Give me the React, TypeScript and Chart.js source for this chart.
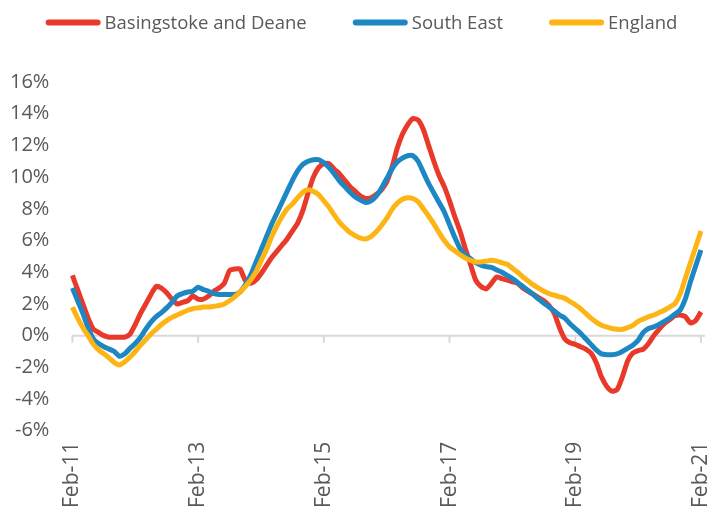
import React, { useEffect, useRef } from 'react';
import { Chart, registerables } from 'chart.js';

Chart.register(...registerables);

const MONTH_NAMES = ['Jan', 'Feb', 'Mar', 'Apr', 'May', 'Jun', 'Jul', 'Aug', 'Sep', 'Oct', 'Nov', 'Dec'];
const FIRST_YEAR = 11;
const FIRST_MONTH = 1; // Feb
const MONTH_COUNT = 121;
const CATEGORIES: string[] = Array.from({ length: MONTH_COUNT }, (_, i) => {
  const m = FIRST_MONTH + i;
  return `${MONTH_NAMES[m % 12]}-${FIRST_YEAR + Math.floor(m / 12)}`;
});
const TICK_LABELS = ['Feb-11', 'Feb-13', 'Feb-15', 'Feb-17', 'Feb-19', 'Feb-21'];

const SERIES_NAMES = ['Basingstoke and Deane', 'South East', 'England'];
const SERIES_COLORS = ['#E8392A', '#1C87C2', '#FDB515'];

const BASINGSTOKE = [
  3.8, 2.9, 2.0, 1.1, 0.4, 0.2, 0.0, -0.1, -0.1, -0.1, -0.1, 0.1,
  0.7, 1.4, 2.0, 2.6, 3.1, 3.0, 2.7, 2.3, 2.0, 2.1, 2.2, 2.5,
  2.3, 2.3, 2.5, 2.8, 3.0, 3.3, 4.1, 4.2, 4.2, 3.5, 3.3, 3.5,
  3.9, 4.4, 4.9, 5.3, 5.7, 6.1, 6.6, 7.1, 7.9, 9.0, 10.0, 10.6,
  10.85, 10.85, 10.5, 10.2, 9.8, 9.4, 9.1, 8.8, 8.65, 8.7, 8.9, 9.2,
  9.7, 10.6, 11.8, 12.7, 13.3, 13.7, 13.6, 13.0, 12.0, 11.0, 10.1, 9.4,
  8.5, 7.5, 6.6, 5.5, 4.5, 3.5, 3.1, 2.95, 3.3, 3.7, 3.6, 3.5,
  3.4, 3.3, 3.0, 2.8, 2.6, 2.4, 2.2, 1.9, 1.4, 0.5, -0.2, -0.45,
  -0.55, -0.7, -0.85, -1.1, -1.7, -2.6, -3.2, -3.5, -3.4, -2.6, -1.6, -1.1,
  -0.95, -0.85, -0.5, 0.0, 0.4, 0.75, 1.0, 1.25, 1.3, 1.2, 0.8, 0.95,
  1.5,
];

const SOUTH_EAST = [
  3.0, 2.2, 1.4, 0.5, -0.2, -0.5, -0.7, -0.85, -1.0, -1.3, -1.15, -0.8,
  -0.5, -0.1, 0.4, 0.85, 1.2, 1.45, 1.75, 2.1, 2.5, 2.65, 2.75, 2.8,
  3.05, 2.9, 2.8, 2.65, 2.6, 2.6, 2.6, 2.6, 2.75, 3.2, 3.8, 4.6,
  5.4, 6.2, 7.0, 7.7, 8.4, 9.1, 9.8, 10.4, 10.8, 11.0, 11.1, 11.1,
  10.9, 10.6, 10.2, 9.75, 9.4, 9.05, 8.75, 8.55, 8.4, 8.5, 8.8, 9.3,
  9.9, 10.5, 10.95, 11.2, 11.35, 11.35, 11.0, 10.3, 9.6, 9.0, 8.4, 7.8,
  7.0, 6.2, 5.5, 5.1, 4.85, 4.6, 4.45, 4.35, 4.3, 4.15, 4.0, 3.8,
  3.6, 3.35, 3.1, 2.85, 2.6, 2.3, 2.05, 1.8, 1.55, 1.3, 1.1, 0.75,
  0.45, 0.15, -0.2, -0.55, -0.9, -1.15, -1.2, -1.2, -1.15, -1.0, -0.8, -0.6,
  -0.3, 0.2, 0.45, 0.55, 0.7, 0.9, 1.1, 1.35, 1.6, 2.3, 3.4, 4.4,
  5.4,
];

const ENGLAND = [
  1.8, 1.1, 0.5, 0.0, -0.55, -0.9, -1.15, -1.4, -1.7, -1.85, -1.65, -1.35,
  -1.0, -0.6, -0.25, 0.1, 0.4, 0.7, 0.95, 1.15, 1.3, 1.45, 1.6, 1.7,
  1.75, 1.8, 1.8, 1.85, 1.9, 2.0, 2.2, 2.45, 2.75, 3.1, 3.5, 4.0,
  4.7, 5.4, 6.2, 6.9, 7.5, 8.0, 8.3, 8.7, 9.05, 9.2, 9.1, 8.9,
  8.5, 8.1, 7.6, 7.15, 6.8, 6.5, 6.3, 6.15, 6.1, 6.25, 6.55, 6.95,
  7.4, 7.95, 8.35, 8.6, 8.7, 8.65, 8.45, 8.0, 7.55, 7.05, 6.5, 6.0,
  5.6, 5.35, 5.1, 4.9, 4.75, 4.65, 4.65, 4.7, 4.75, 4.7, 4.6, 4.5,
  4.25, 4.0, 3.7, 3.45, 3.2, 3.0, 2.8, 2.65, 2.55, 2.45, 2.35, 2.15,
  1.95, 1.7, 1.4, 1.1, 0.85, 0.65, 0.55, 0.45, 0.4, 0.4, 0.5, 0.65,
  0.9, 1.05, 1.2, 1.3, 1.45, 1.6, 1.8, 2.0, 2.6, 3.6, 4.6, 5.6,
  6.6,
];

const Y_MIN = -6;
const Y_MAX = 16;
const Y_STEP = 2;

const FONT_FAMILY = '"Open Sans", "Liberation Sans", sans-serif';
const TEXT_COLOR = '#595959';
const AXIS_COLOR = '#D9D9D9';

const zeroLinePlugin = {
  id: 'zeroLine',
  beforeDatasetsDraw(chart: any) {
    const { ctx, chartArea, scales } = chart;
    const x = scales.x;
    const y = scales.y;
    const y0 = y.getPixelForValue(0);
    ctx.save();
    ctx.strokeStyle = AXIS_COLOR;
    ctx.lineWidth = 2;
    ctx.beginPath();
    ctx.moveTo(chartArea.left, y0);
    ctx.lineTo(chartArea.right + 4, y0);
    CATEGORIES.forEach((c, i) => {
      if (TICK_LABELS.includes(c)) {
        const px = x.getPixelForValue(i);
        ctx.moveTo(px, y0);
        ctx.lineTo(px, y0 + 7);
      }
    });
    ctx.stroke();
    ctx.restore();
  },
};

const legendPlugin = {
  id: 'lineLegend',
  afterDraw(chart: any) {
    const { ctx } = chart;
    const lineLen = 55;
    const gap = 4;
    const spacing = 46;
    const cy = 22.5;
    ctx.save();
    ctx.font = `18.5px ${FONT_FAMILY}`;
    const items = chart.data.datasets.map((ds: any) => ({
      text: ds.label,
      color: ds.borderColor,
      w: ctx.measureText(ds.label).width,
    }));
    const total =
      items.reduce((s: number, it: any) => s + lineLen + gap + it.w, 0) + spacing * (items.length - 1);
    let x = chart.width / 2 + 5 - total / 2;
    items.forEach((it: any) => {
      ctx.strokeStyle = it.color;
      ctx.lineWidth = 6;
      ctx.lineCap = 'round';
      ctx.beginPath();
      ctx.moveTo(x + 3, cy);
      ctx.lineTo(x + lineLen - 3, cy);
      ctx.stroke();
      ctx.fillStyle = TEXT_COLOR;
      ctx.textBaseline = 'middle';
      ctx.textAlign = 'left';
      ctx.fillText(it.text, x + lineLen + gap, cy + 1);
      x += lineLen + gap + it.w + spacing;
    });
    ctx.restore();
  },
};

export default function App() {
  const canvasRef = useRef<HTMLCanvasElement | null>(null);

  useEffect(() => {
    if (!canvasRef.current) return;
    const values = [BASINGSTOKE, SOUTH_EAST, ENGLAND];
    const chart = new Chart(canvasRef.current, {
      type: 'line',
      data: {
        labels: CATEGORIES,
        datasets: SERIES_NAMES.map((name, k) => ({
          label: name,
          data: values[k],
          borderColor: SERIES_COLORS[k],
          backgroundColor: SERIES_COLORS[k],
          borderWidth: 5,
          pointRadius: 0,
          pointHoverRadius: 0,
          tension: 0.2,
          fill: false,
          order: 2 - k,
        })),
      },
      options: {
        responsive: true,
        maintainAspectRatio: false,
        animation: false,
        layout: { padding: { top: 82, left: -13, right: 0, bottom: -8 } },
        plugins: {
          legend: { display: false },
          tooltip: { enabled: false },
        },
        scales: {
          x: {
            type: 'category',
            offset: false,
            grid: { display: false, drawTicks: false },
            border: { display: false },
            ticks: {
              autoSkip: false,
              minRotation: 90,
              maxRotation: 90,
              padding: 11,
              color: TEXT_COLOR,
              font: { family: FONT_FAMILY, size: 21, lineHeight: 0.05 },
              callback: (_v: any, i: number) => (TICK_LABELS.includes(CATEGORIES[i]) ? CATEGORIES[i] : ''),
            },
          },
          y: {
            min: Y_MIN,
            max: Y_MAX,
            grid: { display: false, drawTicks: false },
            border: { display: false },
            ticks: {
              stepSize: Y_STEP,
              padding: 23,
              color: TEXT_COLOR,
              font: { family: FONT_FAMILY, size: 20 },
              callback: (v: any) => `${v}%`,
            },
          },
        },
      },
      plugins: [zeroLinePlugin, legendPlugin],
    });
    return () => chart.destroy();
  }, []);

  return (
    <div style={{ position: 'absolute', left: 0, top: 0, width: 713, height: 511, background: '#fff' }}>
      <canvas ref={canvasRef} />
    </div>
  );
}
